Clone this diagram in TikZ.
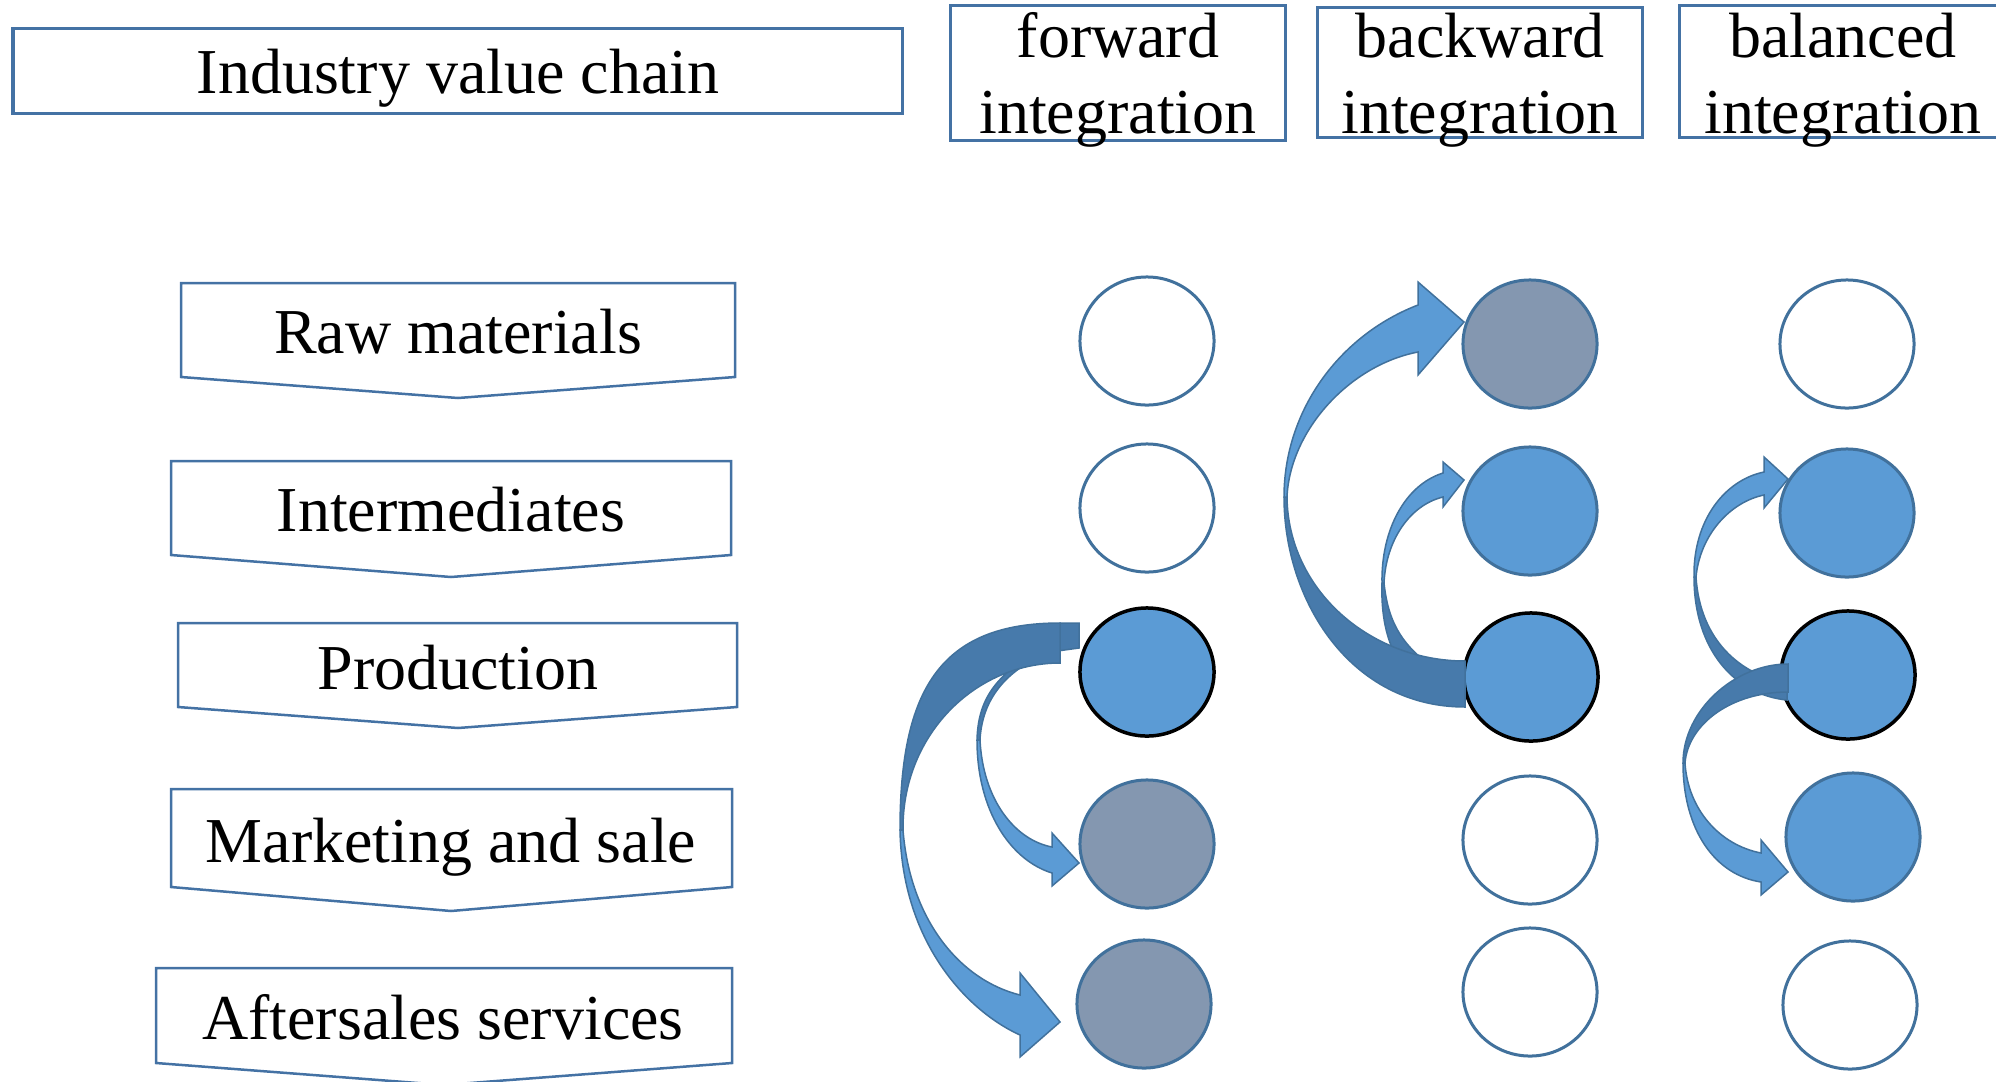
\documentclass[tikz,border=0pt]{standalone}
\usepackage{fontspec}
\setmainfont{Liberation Serif}
\usetikzlibrary{shapes.geometric}

\definecolor{cframe}{HTML}{4472A4}
\definecolor{cline}{HTML}{41719C}
\definecolor{cblue}{HTML}{5B9BD5}
\definecolor{cgray}{HTML}{8497B0}
\definecolor{cband}{HTML}{477AAB}

\tikzset{
  hdbox/.style={draw=cframe, line width=0.03cm},
  lbl/.style={font=\fontsize{18.2}{21.6}\selectfont, inner sep=0pt, anchor=base},
  ring/.style={ellipse, minimum width=1.34cm, minimum height=1.28cm, inner sep=0pt,
    draw=cline, line width=0.03cm, fill=white},
  ringblue/.style={ring, fill=cblue},
  ringgray/.style={ring, fill=cgray},
  ringcore/.style={ring, fill=cblue, draw=black, line width=0.035cm},
  bandlight/.style={fill=cblue, draw=cline, line width=0.015cm},
  banddark/.style={fill=cband, draw=cline, line width=0.015cm},
}

\begin{document}
\begin{tikzpicture}[x=0.01cm, y=-0.01cm]
    \useasboundingbox (0,0) rectangle (1996,1081);
    \clip (0,0) rectangle (1996,1081);

    % Header boxes
    \draw[hdbox] (13,28) rectangle (902,113);
    \node[lbl] (chain) at (458,93) {Industry value chain};
    \draw[hdbox] (950,5) rectangle (1285,140);
    \node[lbl] (fwdA) at (1118,57) {forward};
    \node[lbl] (fwdB) at (1118,133) {integration};
    \draw[hdbox] (1317,7) rectangle (1642,137);
    \node[lbl] (bwdA) at (1480,57) {backward};
    \node[lbl] (bwdB) at (1480,133) {integration};
    \draw[hdbox] (1679,5) rectangle (2010,137);
    \node[lbl] (balA) at (1843,57) {balanced};
    \node[lbl] (balB) at (1843,133) {integration};

    % Value chain stages
    \draw[hdbox, line width=0.025cm] (181,283) -- (735,283) -- (735,377) -- (458,398) -- (181,377) -- cycle;
    \node[lbl] (raw) at (458,353) {Raw materials};
    \draw[hdbox, line width=0.025cm] (171,461) -- (731,461) -- (731,555) -- (451,577) -- (171,555) -- cycle;
    \node[lbl] (inter) at (451,531) {Intermediates};
    \draw[hdbox, line width=0.025cm] (178,623) -- (737,623) -- (737,707) -- (458,728) -- (178,707) -- cycle;
    \node[lbl] (prod) at (458,689) {Production};
    \draw[hdbox, line width=0.025cm] (171,789) -- (732,789) -- (732,887) -- (451,911) -- (171,887) -- cycle;
    \node[lbl] (mkt) at (451,862) {Marketing and sale};
    \draw[hdbox, line width=0.025cm] (156,968) -- (732,968) -- (732,1063) -- (444,1085) -- (156,1063) -- cycle;
    \node[lbl] (after) at (443,1039) {Aftersales services};

    % Forward integration
    \node[ring] (F1) at (1147,341) {};
    \node[ring] (F2) at (1147,508) {};
    \node[ringcore] (F3) at (1147,672) {};
    \node[ringgray] (F4) at (1147,844) {};
    \node[ringgray] (F5) at (1144,1004) {};

    % Backward integration
    \node[ringgray] (B1) at (1530,344) {};
    \node[ringblue] (B2) at (1530,511) {};
    \node[ringcore] (B3) at (1531,677) {};
    \node[ring] (B4) at (1530,840) {};
    \node[ring] (B5) at (1530,992) {};

    % Balanced integration
    \node[ring] (A1) at (1847,344) {};
    \node[ringblue] (A2) at (1847,513) {};
    \node[ringcore] (A3) at (1848,675) {};
    \node[ringblue] (A4) at (1853,837) {};
    \node[ring] (A5) at (1850,1005) {};

    % Forward arrows
    \filldraw[banddark] (1079,623) -- (1079,648) -- (1050,652) .. controls (1005,670) and (982,700) .. (980,740)
        -- (977,740) .. controls (978,700) and (995,675) .. (1040,650) -- (1060,623) -- cycle;
    \filldraw[bandlight] (977,740) .. controls (977,810) and (1010,860) .. (1052,873) -- (1052,886) -- (1079,863)
        -- (1052,833) -- (1052,847) .. controls (1015,840) and (983,800) .. (980,740) -- cycle;
    \filldraw[banddark] (1060,623) .. controls (940,623) and (900,690) .. (900,830)
        -- (903,830) .. controls (902,735) and (975,663) .. (1060,663) -- cycle;
    \filldraw[bandlight] (900,830) .. controls (902,940) and (965,1010) .. (1020,1035) -- (1020,1057) -- (1060,1022)
        -- (1020,973) -- (1020,995) .. controls (960,980) and (910,920) .. (903,830) -- cycle;

    % Backward arrows
    \filldraw[banddark] (1382,583) .. controls (1380,640) and (1400,675) .. (1430,690)
        -- (1445,675) .. controls (1400,648) and (1388,620) .. (1384,583) -- cycle;
    \filldraw[bandlight] (1382,583) .. controls (1381,530) and (1405,485) .. (1443,473) -- (1443,462) -- (1464,480)
        -- (1443,507) -- (1443,497) .. controls (1410,505) and (1386,540) .. (1384,583) -- cycle;
    \filldraw[banddark] (1465,707) .. controls (1350,707) and (1284,600) .. (1284,497)
        -- (1287,497) .. controls (1288,590) and (1370,661) .. (1465,661) -- cycle;
    \filldraw[bandlight] (1284,497) .. controls (1284,410) and (1340,335) .. (1418,305) -- (1418,282) -- (1464,322)
        -- (1418,375) -- (1418,352) .. controls (1350,365) and (1290,430) .. (1287,497) -- cycle;

    % Balanced arrows
    \filldraw[banddark] (1694,577) .. controls (1694,650) and (1735,695) .. (1787,700)
        -- (1787,683) .. controls (1740,675) and (1700,640) .. (1696,577) -- cycle;
    \filldraw[bandlight] (1694,577) .. controls (1693,520) and (1725,480) .. (1764,472) -- (1764,457) -- (1788,479)
        -- (1764,508) -- (1764,495) .. controls (1730,502) and (1700,535) .. (1696,577) -- cycle;
    \filldraw[banddark] (1788,664) .. controls (1735,664) and (1683,710) .. (1683,763)
        -- (1685,763) .. controls (1688,725) and (1730,692) .. (1788,692) -- cycle;
    \filldraw[bandlight] (1683,763) .. controls (1683,830) and (1715,875) .. (1761,882) -- (1761,895) -- (1788,872)
        -- (1761,840) -- (1761,853) .. controls (1720,845) and (1688,810) .. (1685,763) -- cycle;
\end{tikzpicture}
\end{document}
